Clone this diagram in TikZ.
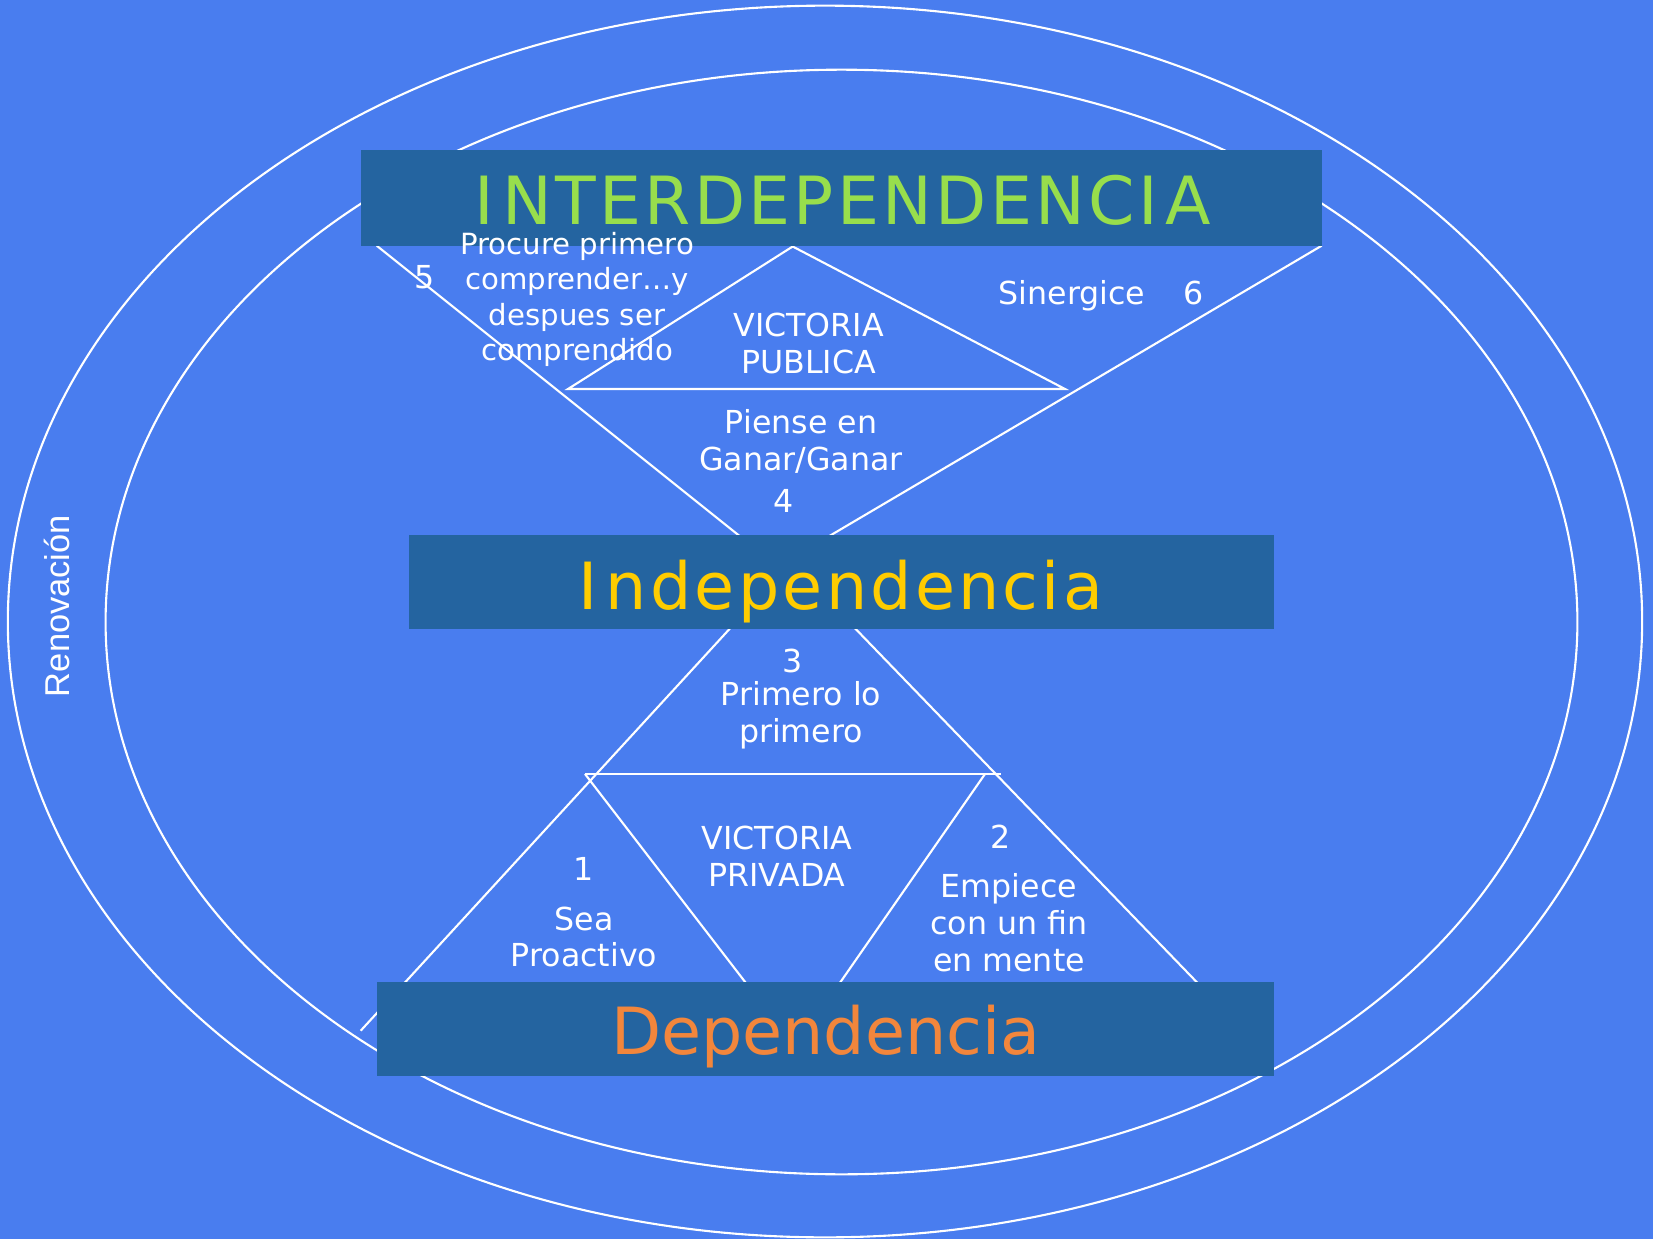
\documentclass[tikz,border=0pt]{standalone}
\usepackage{fontspec}
\setmainfont{DejaVu Sans}
\newfontfamily\titlefont[LetterSpace=5]{DejaVu Sans}
\newfontfamily\renfont{Liberation Sans}
\definecolor{fondo}{RGB}{73,125,239}
\definecolor{barra}{RGB}{36,100,160}
\definecolor{verde}{RGB}{152,222,76}
\definecolor{amarillo}{RGB}{255,204,0}
\definecolor{naranja}{RGB}{242,134,60}
\tikzset{
  caja/.style={fill=barra, inner sep=0pt, outer sep=0pt},
  linea/.style={draw=white, line width=0.6pt},
  texto/.style={text=white, align=center, inner sep=0pt, font=\fontsize{9}{10.5}\selectfont},
  titulo/.style={anchor=base, inner sep=0pt, font=\fontsize{18.5}{20}\selectfont}
}
\begin{document}
\begin{tikzpicture}[x=0.01cm, y=-0.01cm]
	\fill[fondo] (0,0) rectangle (1653,1239);
	\useasboundingbox (0,0) rectangle (1653,1239);
	\draw[linea] (825,621.5) ellipse [x radius=8.167cm, y radius=6.155cm];
	\draw[linea] (841.5,622) ellipse [x radius=7.355cm, y radius=5.52cm];
	% V de arriba
	\coordinate (vi) at (376.7,245.7);
	\coordinate (vd) at (1321.7,245.7);
	\coordinate (va) at (777.7,566.5);
	\draw[linea] (vi) -- (va) -- (vd);
	\coordinate (pa) at (792.7,246.5);
	\coordinate (pi) at (568,389);
	\coordinate (pd) at (1065,389);
	\draw[linea] (pi) -- (pa) -- (pd) -- cycle;
	% triangulo de abajo
	\coordinate (ia) at (791,562);
	\coordinate (ii) at (360.7,1030.7);
	\coordinate (id) at (1243,1030);
	\draw[linea] (ii) -- (ia) -- (id);
	\coordinate (hi) at (585,774);
	\coordinate (hd) at (1001,774);
	\coordinate (hq) at (985,774);
	\coordinate (qi) at (759,1000);
	\coordinate (qd) at (828,1000);
	\draw[linea] (hi) -- (hd);
	\draw[linea] (hi) -- (qi);
	\draw[linea] (hq) -- (qd);
	% cajas
	\node[caja, minimum width=9.61cm, minimum height=0.96cm] (inter) at (841.5,198) {};
	\node[caja, minimum width=8.645cm, minimum height=0.949cm] (indep) at (841.25,582) {};
	\node[caja, minimum width=8.965cm, minimum height=0.93cm] (dep) at (825.25,1029) {};
	\node[titulo, text=verde, font=\fontsize{18.9}{20}\selectfont] (tinter) at (843,224.5) {\titlefont I\kern.12em NTERDEPENDENCI\kern.12em A};
	\node[titulo, text=amarillo] (tindep) at (841,609.3) {\titlefont I\kern.12em ndependencia};
	\node[titulo, text=naranja] (tdep) at (825.5,1054.2) {Dependencia};
	% textos
	\node[texto, font=\fontsize{8.3}{10.1}\selectfont] (proc) at (577,299.5) {Procure primero\\comprender…y\\despues ser\\comprendido};
	\node[texto] (n5) at (425,277) {5};
	\node[texto] (sin) at (1072,296) {Sinergice};
	\node[texto] (n6) at (1194,293) {6};
	\node[texto] (pub) at (808.6,343.6) {VICTORIA\\PUBLICA};
	\node[texto] (piense) at (801,441) {Piense en\\Ganar/Ganar};
	\node[texto] (n4) at (784,501) {4};
	\node[texto] (n3) at (792.7,661) {3};
	\node[texto] (prim) at (801,715) {Primero lo\\primero};
	\node[texto] (priv) at (777,856.5) {VICTORIA\\PRIVADA};
	\node[texto] (n1) at (584,868.6) {1};
	\node[texto] (sea) at (584,937) {Sea\\Proactivo};
	\node[texto] (n2) at (1000.4,837) {2};
	\node[texto] (emp) at (1009,923) {Empiece\\con un fin\\en mente};
	\node[texto, rotate=90, font=\renfont\fontsize{9.8}{11}\selectfont] (renov) at (57,606) {Renovación};
\end{tikzpicture}
\end{document}
